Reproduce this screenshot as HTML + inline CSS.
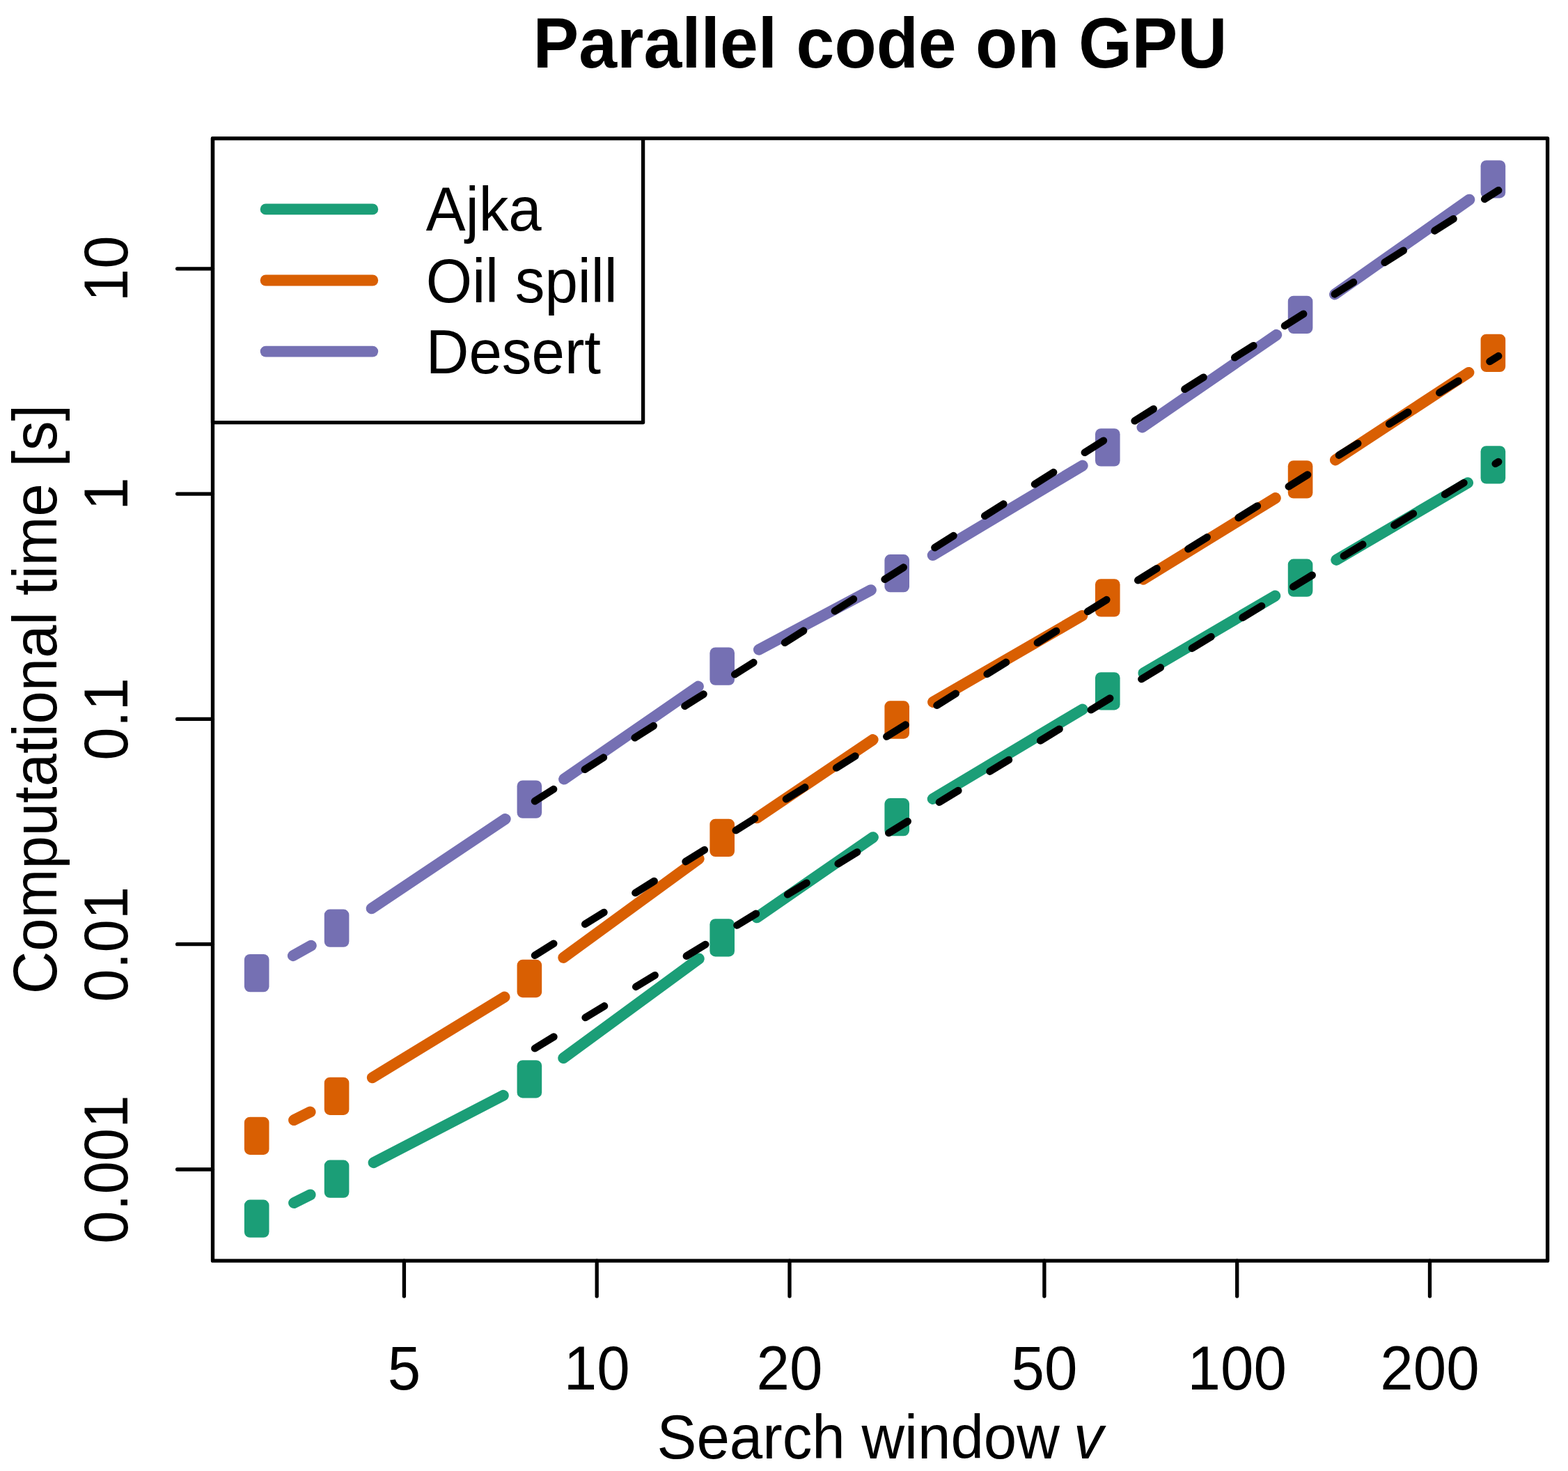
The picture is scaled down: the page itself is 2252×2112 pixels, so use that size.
<!DOCTYPE html>
<html><head><meta charset="utf-8"><title>Parallel code on GPU</title>
<style>html,body{margin:0;padding:0;background:#fff;}body{width:2252px;height:2112px;overflow:hidden;}svg{display:block;}</style>
</head><body>
<svg width="2252" height="2112" viewBox="0 0 2252 2112">
<rect width="2252" height="2112" fill="#fff"/>
<path d="M422.10 1727.03L445.61 1715.37M536.58 1669.24L722.81 1572.76M809.22 1519.14L1003.76 1376.46M1086.87 1317.35L1253.93 1202.15M1339.69 1147.03L1554.71 1018.47M1642.46 966.47L1831.31 855.53M1919.27 803.90L2108.08 693.20" stroke="#1B9E77" stroke-width="15.94" stroke-linecap="round" fill="none"/>
<rect x="350.91" y="1722.55" width="35.6" height="54.3" rx="8" fill="#1B9E77"/>
<rect x="465.79" y="1665.55" width="35.6" height="54.3" rx="8" fill="#1B9E77"/>
<rect x="742.59" y="1522.15" width="35.6" height="54.3" rx="8" fill="#1B9E77"/>
<rect x="1019.39" y="1319.15" width="35.6" height="54.3" rx="8" fill="#1B9E77"/>
<rect x="1270.41" y="1146.05" width="35.6" height="54.3" rx="8" fill="#1B9E77"/>
<rect x="1572.98" y="965.15" width="35.6" height="54.3" rx="8" fill="#1B9E77"/>
<rect x="1849.78" y="802.55" width="35.6" height="54.3" rx="8" fill="#1B9E77"/>
<rect x="2126.58" y="640.25" width="35.6" height="54.3" rx="8" fill="#1B9E77"/>
<path d="M422.10 1608.13L445.61 1596.47M534.84 1547.25L724.55 1431.55M809.28 1374.93L1003.70 1232.97M1087.16 1174.37L1253.64 1062.03M1340.05 1007.95L1554.34 883.95M1641.94 831.71L1831.82 715.09M1917.93 660.43L2109.43 534.87" stroke="#D95F02" stroke-width="15.94" stroke-linecap="round" fill="none"/>
<rect x="350.91" y="1603.65" width="35.6" height="54.3" rx="8" fill="#D95F02"/>
<rect x="465.79" y="1546.65" width="35.6" height="54.3" rx="8" fill="#D95F02"/>
<rect x="742.59" y="1377.85" width="35.6" height="54.3" rx="8" fill="#D95F02"/>
<rect x="1019.39" y="1175.75" width="35.6" height="54.3" rx="8" fill="#D95F02"/>
<rect x="1270.41" y="1006.35" width="35.6" height="54.3" rx="8" fill="#D95F02"/>
<rect x="1572.98" y="831.25" width="35.6" height="54.3" rx="8" fill="#D95F02"/>
<rect x="1849.78" y="661.25" width="35.6" height="54.3" rx="8" fill="#D95F02"/>
<rect x="2126.58" y="479.75" width="35.6" height="54.3" rx="8" fill="#D95F02"/>
<path d="M420.90 1372.16L446.81 1357.64M533.69 1304.35L725.70 1175.95M810.07 1118.63L1002.91 985.57M1089.92 932.67L1250.88 847.13M1339.69 797.04L1554.70 668.56M1640.49 613.49L1833.27 480.81M1917.00 422.57L2110.36 286.63" stroke="#7570B3" stroke-width="15.94" stroke-linecap="round" fill="none"/>
<rect x="350.91" y="1369.95" width="35.6" height="54.3" rx="8" fill="#7570B3"/>
<rect x="465.79" y="1305.55" width="35.6" height="54.3" rx="8" fill="#7570B3"/>
<rect x="742.59" y="1120.45" width="35.6" height="54.3" rx="8" fill="#7570B3"/>
<rect x="1019.39" y="929.45" width="35.6" height="54.3" rx="8" fill="#7570B3"/>
<rect x="1270.41" y="796.05" width="35.6" height="54.3" rx="8" fill="#7570B3"/>
<rect x="1572.98" y="615.25" width="35.6" height="54.3" rx="8" fill="#7570B3"/>
<rect x="1849.78" y="424.75" width="35.6" height="54.3" rx="8" fill="#7570B3"/>
<rect x="2126.58" y="230.15" width="35.6" height="54.3" rx="8" fill="#7570B3"/>
<path d="M768.09 1505.2L2152.08 663.1" stroke="#000" stroke-width="10.63" stroke-linecap="round" stroke-dasharray="31.9 53.1" fill="none"/>
<path d="M768.09 1371.7L2152.08 511.2" stroke="#000" stroke-width="10.63" stroke-linecap="round" stroke-dasharray="31.9 53.1" fill="none"/>
<path d="M768.09 1150.2L2152.08 273.3" stroke="#000" stroke-width="10.63" stroke-linecap="round" stroke-dasharray="31.9 53.1" fill="none"/>
<rect x="305.5" y="198.7" width="1917.1" height="1611.5" fill="none" stroke="#000" stroke-width="5.31" stroke-linejoin="round"/>
<path d="M580.40 1810.2V1861.1M857.20 1810.2V1861.1M1134.00 1810.2V1861.1M1499.90 1810.2V1861.1M1776.70 1810.2V1861.1M2053.50 1810.2V1861.1" stroke="#000" stroke-width="5.31" stroke-linecap="round" fill="none"/>
<path d="M305.5 385.80H254.6M305.5 709.10H254.6M305.5 1032.40H254.6M305.5 1355.70H254.6M305.5 1679.00H254.6" stroke="#000" stroke-width="5.31" stroke-linecap="round" fill="none"/>
<rect x="305.5" y="198.7" width="618.1" height="407.9" fill="none" stroke="#000" stroke-width="5.31" stroke-linejoin="round"/>
<path d="M381.7 300.4H535.2" stroke="#1B9E77" stroke-width="15.94" stroke-linecap="round"/>
<path d="M381.7 402.5H535.2" stroke="#D95F02" stroke-width="15.94" stroke-linecap="round"/>
<path d="M381.7 504.6H535.2" stroke="#7570B3" stroke-width="15.94" stroke-linecap="round"/>
<text transform="translate(611.80,331.00) scale(1,1.04)" font-family="Liberation Sans, Arial, sans-serif" font-size="85.3" font-weight="normal" text-anchor="start" style="font-kerning:none">Ajka</text>
<text transform="translate(611.80,433.50) scale(1,1.04)" font-family="Liberation Sans, Arial, sans-serif" font-size="85.3" font-weight="normal" text-anchor="start" style="font-kerning:none">Oil spill</text>
<text transform="translate(611.80,535.80) scale(1,1.04)" font-family="Liberation Sans, Arial, sans-serif" font-size="85.3" font-weight="normal" text-anchor="start" style="font-kerning:none">Desert</text>
<text transform="translate(580.40,1994.50) scale(1,1.04)" font-family="Liberation Sans, Arial, sans-serif" font-size="85.3" font-weight="normal" text-anchor="middle" style="font-kerning:none">5</text>
<text transform="translate(857.20,1994.50) scale(1,1.04)" font-family="Liberation Sans, Arial, sans-serif" font-size="85.3" font-weight="normal" text-anchor="middle" style="font-kerning:none">10</text>
<text transform="translate(1134.00,1994.50) scale(1,1.04)" font-family="Liberation Sans, Arial, sans-serif" font-size="85.3" font-weight="normal" text-anchor="middle" style="font-kerning:none">20</text>
<text transform="translate(1499.90,1994.50) scale(1,1.04)" font-family="Liberation Sans, Arial, sans-serif" font-size="85.3" font-weight="normal" text-anchor="middle" style="font-kerning:none">50</text>
<text transform="translate(1776.70,1994.50) scale(1,1.04)" font-family="Liberation Sans, Arial, sans-serif" font-size="85.3" font-weight="normal" text-anchor="middle" style="font-kerning:none">100</text>
<text transform="translate(2053.50,1994.50) scale(1,1.04)" font-family="Liberation Sans, Arial, sans-serif" font-size="85.3" font-weight="normal" text-anchor="middle" style="font-kerning:none">200</text>
<text transform="translate(182.80,385.80) rotate(-90) scale(1,1.04)" font-family="Liberation Sans, Arial, sans-serif" font-size="85.3" font-weight="normal" text-anchor="middle" style="font-kerning:none">10</text>
<text transform="translate(182.80,709.10) rotate(-90) scale(1,1.04)" font-family="Liberation Sans, Arial, sans-serif" font-size="85.3" font-weight="normal" text-anchor="middle" style="font-kerning:none">1</text>
<text transform="translate(182.80,1032.40) rotate(-90) scale(1,1.04)" font-family="Liberation Sans, Arial, sans-serif" font-size="85.3" font-weight="normal" text-anchor="middle" style="font-kerning:none">0.1</text>
<text transform="translate(182.80,1355.70) rotate(-90) scale(1,1.04)" font-family="Liberation Sans, Arial, sans-serif" font-size="85.3" font-weight="normal" text-anchor="middle" style="font-kerning:none">0.01</text>
<text transform="translate(182.80,1679.00) rotate(-90) scale(1,1.04)" font-family="Liberation Sans, Arial, sans-serif" font-size="85.3" font-weight="normal" text-anchor="middle" style="font-kerning:none">0.001</text>
<text transform="translate(1264.00,96.80) scale(1,1.04)" font-family="Liberation Sans, Arial, sans-serif" font-size="98.6" font-weight="bold" text-anchor="middle" style="font-kerning:none">Parallel code on GPU</text>
<text transform="translate(943.5,2094.0) scale(1,1.04)" font-family="Liberation Sans, Arial, sans-serif" font-size="85.3" style="font-kerning:none">Search window <tspan font-style="italic" dx="-3.5">v</tspan></text>
<text transform="translate(81.30,1004.00) rotate(-90) scale(1,1.04)" font-family="Liberation Sans, Arial, sans-serif" font-size="85.1" font-weight="normal" text-anchor="middle" style="font-kerning:none">Computational time [s]</text>
</svg>
</body></html>
